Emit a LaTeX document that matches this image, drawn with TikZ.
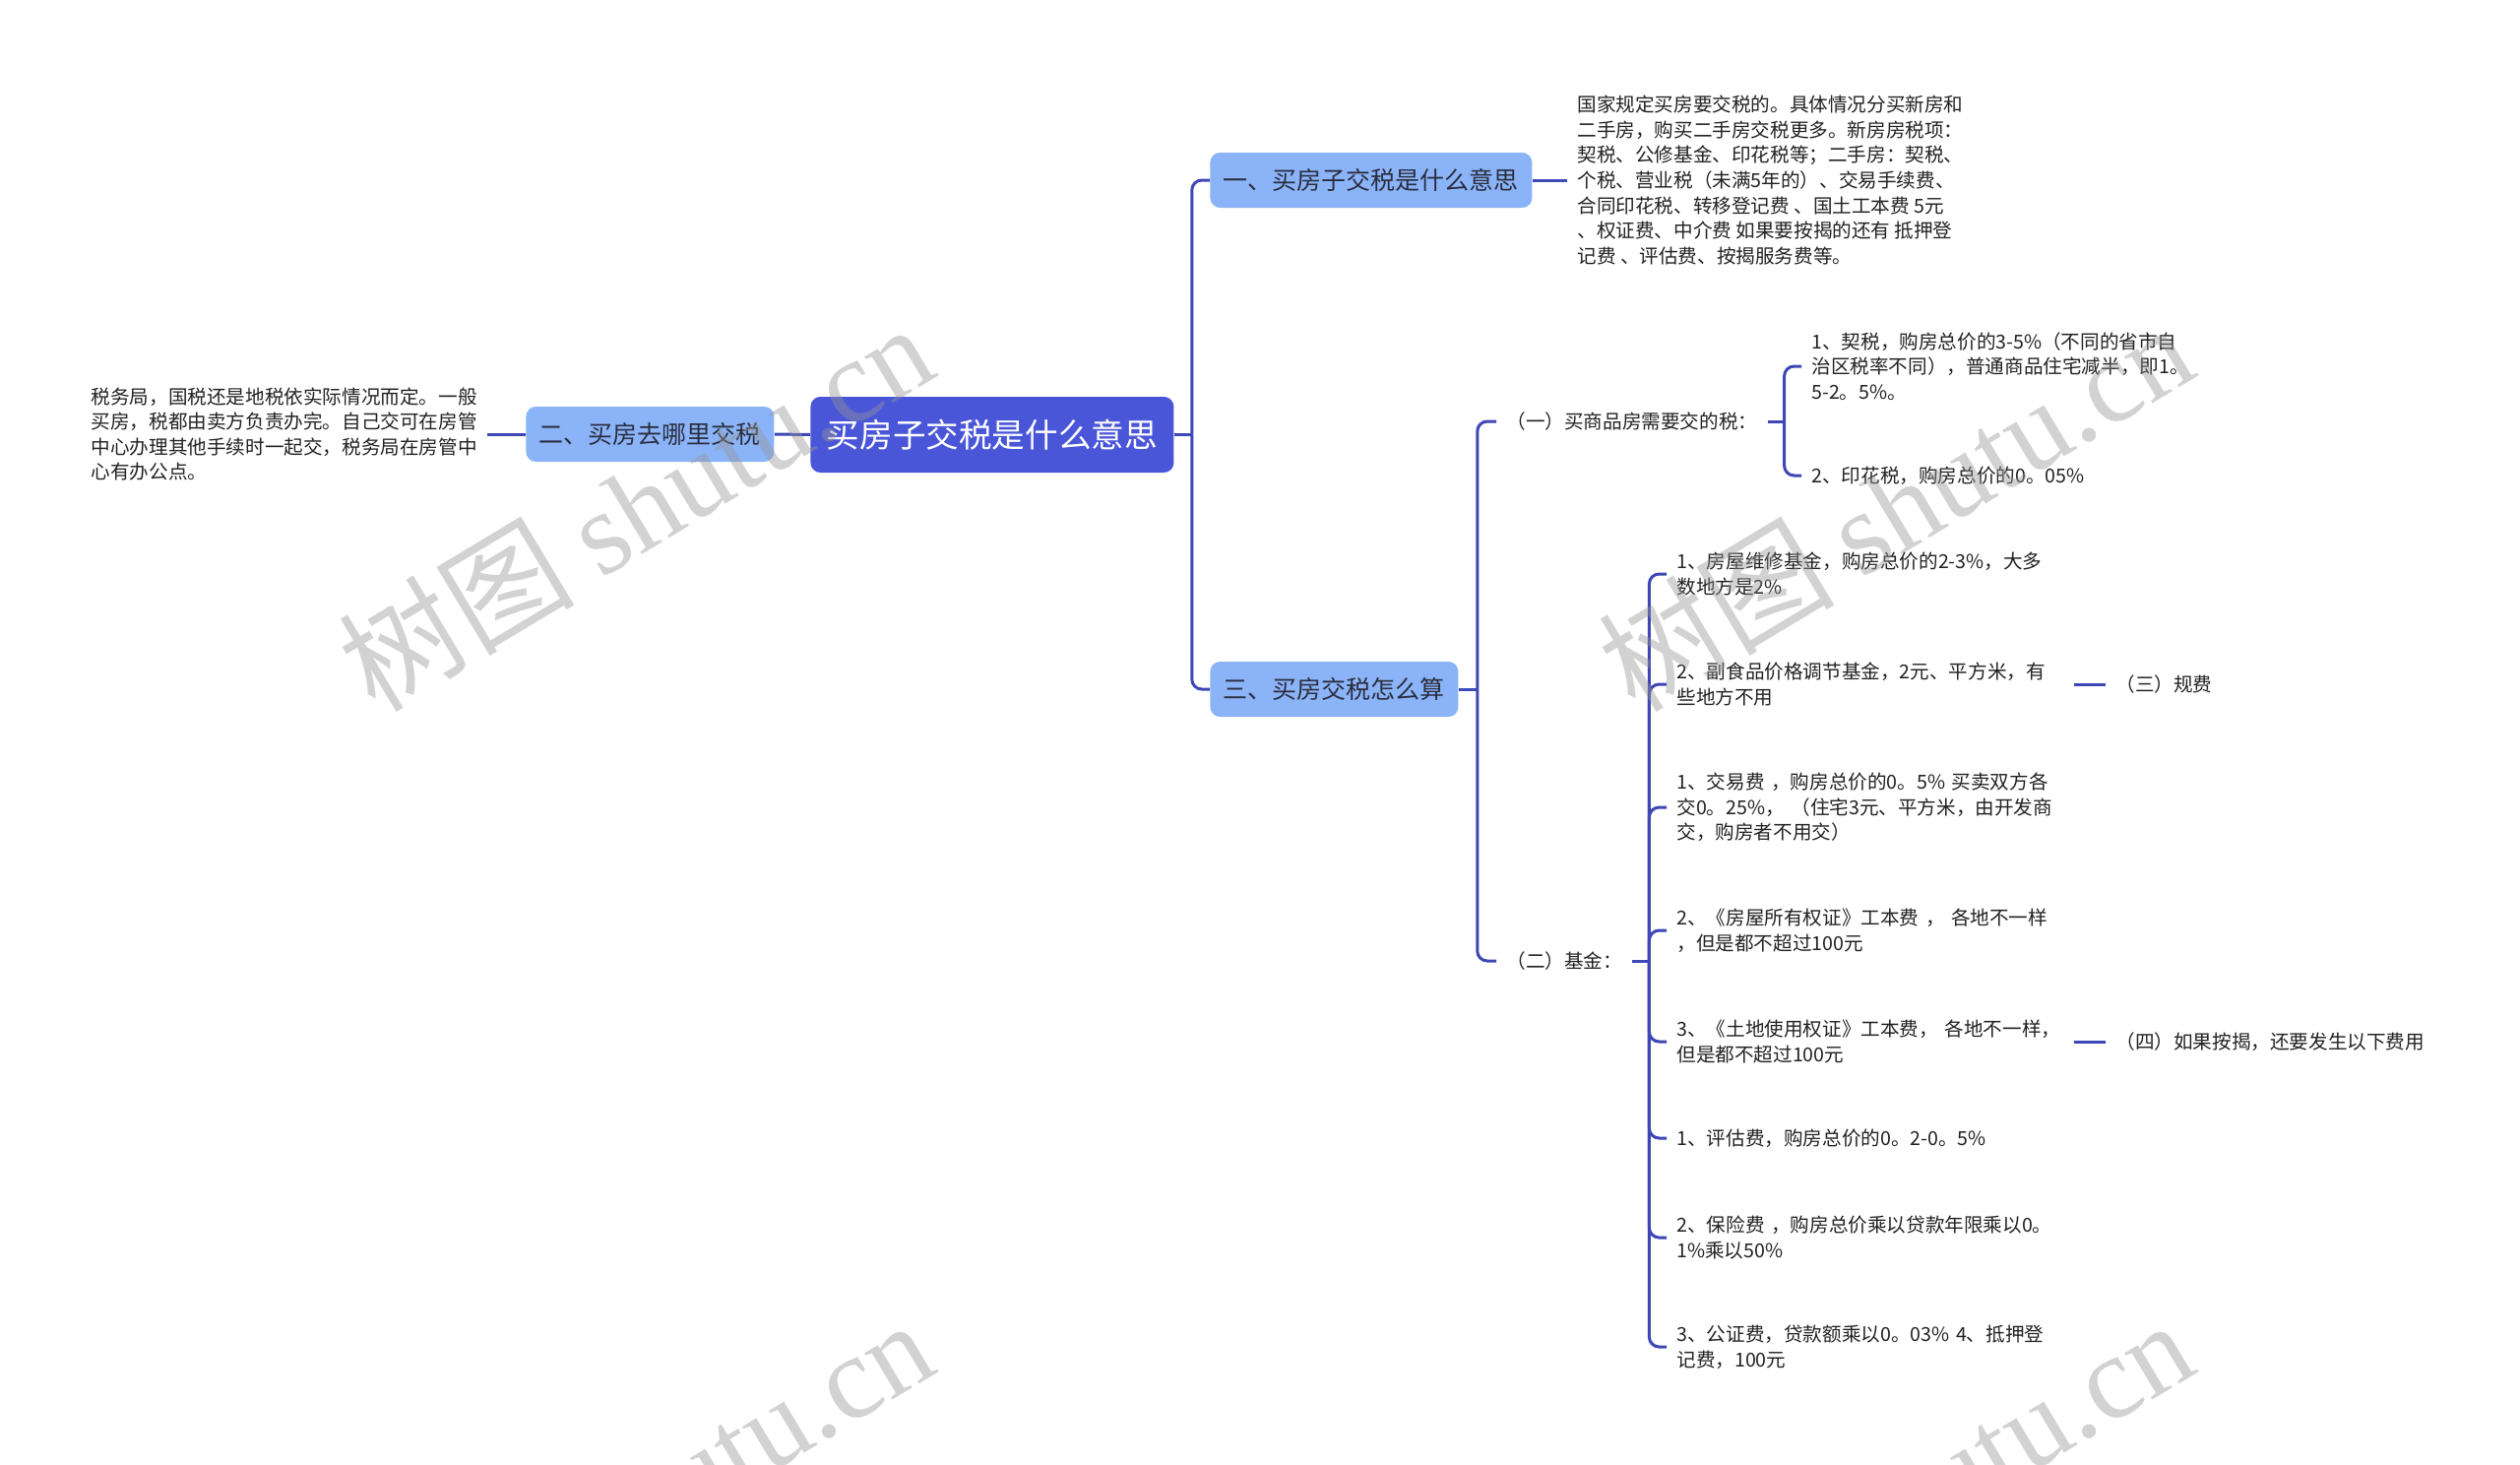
\documentclass[tikz,border=0pt]{standalone}
\usepackage{fontspec}
\setmainfont{Noto Sans CJK SC}
\newfontfamily\wmserif{Liberation Serif}
\definecolor{linec}{HTML}{3D47B5}
\definecolor{rootc}{HTML}{4A56D8}
\definecolor{lvc}{HTML}{8AB4F7}
\definecolor{lvtext}{HTML}{2B2D3F}
\definecolor{txt}{HTML}{222222}
\definecolor{wmc}{HTML}{969696}
\begin{document}
\begin{tikzpicture}[x=0.5pt,y=-0.5pt,
  conn/.style={draw=linec, line width=1.5pt, rounded corners=5pt},
  rootbox/.style={fill=rootc, rounded corners=5pt, text=white, font=\fontsize{16.8pt}{20pt}\selectfont, inner xsep=8.25pt, inner ysep=0pt, minimum height=38.5pt},
  lvbox/.style={fill=lvc, rounded corners=5pt, text=lvtext, font=\fontsize{12.5pt}{15pt}\selectfont, inner xsep=6.75pt, inner ysep=0pt, minimum height=28pt},
  leaf/.style={align=left, text=txt, font=\fontsize{9.8pt}{12.8pt}\selectfont, inner xsep=5pt, inner ysep=2pt},
  wleaf/.style={leaf, text width=196.5pt},
  wm/.style={text=wmc, opacity=0.42, font=\fontsize{60pt}{60pt}\selectfont, rotate=31, inner sep=0pt}
]
\fill[white] (0,0) rectangle (2560,1488);
\useasboundingbox (0,0) rectangle (2560,1488);

% main nodes
\node[rootbox, anchor=west] (r) at (823,441.5) {买房子交税是什么意思};
\node[lvbox, anchor=west] (b2) at (534,441) {二、买房去哪里交税};
\node[lvbox, anchor=west] (b1) at (1229,183) {一、买房子交税是什么意思};
\node[lvbox, anchor=west] (b3) at (1229,700) {三、买房交税怎么算};

\node[leaf, anchor=east] (l2) at (495,441) {税务局，国税还是地税依实际情况而定。一般\\买房，税都由卖方负责办完。自己交可在房管\\中心办理其他手续时一起交，税务局在房管中\\心有办公点。};
\node[leaf, anchor=west] (l1) at (1592,183) {国家规定买房要交税的。具体情况分买新房和\\二手房，购买二手房交税更多。新房房税项：\\契税、公修基金、印花税等；二手房：契税、\\个税、营业税（未满5年的）、交易手续费、\\合同印花税、转移登记费 、国土工本费 5元\\、权证费、中介费 如果要按揭的还有 抵押登\\记费 、评估费、按揭服务费等。};

\node[leaf, anchor=west] (s1) at (1520,428) {（一）买商品房需要交的税：};
\node[leaf, anchor=west] (s2) at (1520,976) {（二）基金：};

\node[leaf, anchor=west] (t1) at (1830,372) {1、契税，购房总价的3-5\%（不同的省市自\\治区税率不同），普通商品住宅减半，即1。\\5-2。5\%。};
\node[leaf, anchor=west] (t2) at (1830,483) {2、印花税，购房总价的0。05\%};

\node[wleaf, anchor=west] (u1) at (1693,583) {1、房屋维修基金，购房总价的2-3\%，大多\\数地方是2\%};
\node[wleaf, anchor=west] (u2) at (1693,695) {2、副食品价格调节基金，2元、平方米，有\\些地方不用};
\node[wleaf, anchor=west] (u3) at (1693,820) {1、交易费 ，购房总价的0。5\% 买卖双方各\\交0。25\%， （住宅3元、平方米，由开发商\\交，购房者不用交）};
\node[wleaf, anchor=west] (u4) at (1693,945) {2、《房屋所有权证》工本费 ， 各地不一样\\，但是都不超过100元};
\node[wleaf, anchor=west] (u5) at (1693,1058) {3、《土地使用权证》工本费， 各地不一样，\\但是都不超过100元};
\node[wleaf, anchor=west] (u6) at (1693,1156) {1、评估费，购房总价的0。2-0。5\%};
\node[wleaf, anchor=west] (u7) at (1693,1257) {2、保险费 ，购房总价乘以贷款年限乘以0。\\1\%乘以50\%};
\node[wleaf, anchor=west] (u8) at (1693,1368) {3、公证费，贷款额乘以0。03\% 4、抵押登\\记费，100元};

\node[leaf, anchor=west] (g3) at (2139,695) {（三）规费};
\node[leaf, anchor=west] (g4) at (2139,1058) {（四）如果按揭，还要发生以下费用};

% junction coordinates
\path (r.east) ++(18,0) coordinate (jr);
\path (b3.east) ++(19,0) coordinate (j3);
\path (s1.east) ++(17,0) coordinate (js1);
\path (s2.east) ++(17,0) coordinate (js2);

% connectors
\draw[conn] (r.west) -- (b2.east);
\draw[conn] (b2.west) -- (l2.east);
\draw[conn] (r.east) -- (jr);
\draw[conn] (jr) |- (b1.west);
\draw[conn] (jr) |- (b3.west);
\draw[conn] (b1.east) -- (l1.west);
\draw[conn] (b3.east) -- (j3);
\draw[conn] (j3) |- (s1.west);
\draw[conn] (j3) |- (s2.west);
\draw[conn] (s1.east) -- (js1);
\draw[conn] (js1) |- (t1.west);
\draw[conn] (js1) |- (t2.west);
\draw[conn] (s2.east) -- (js2);
\foreach \n in {u1,u2,u3,u4,u5,u6,u7,u8} {
  \draw[conn] (js2) |- (\n.west);
}
\draw[conn] (u2.east) -- (g3.west);
\draw[conn] (u5.east) -- (g4.west);

% watermarks
\begin{scope}
\clip (0,0) rectangle (2560,1488);
\node[wm] (w1) at (645,514) {树图 {\wmserif shutu.cn}};
\node[wm] (w2) at (1925,514) {树图 {\wmserif shutu.cn}};
\node[wm] (w3) at (645,1526) {树图 {\wmserif shutu.cn}};
\node[wm] (w4) at (1925,1526) {树图 {\wmserif shutu.cn}};
\end{scope}
\end{tikzpicture}
\end{document}
